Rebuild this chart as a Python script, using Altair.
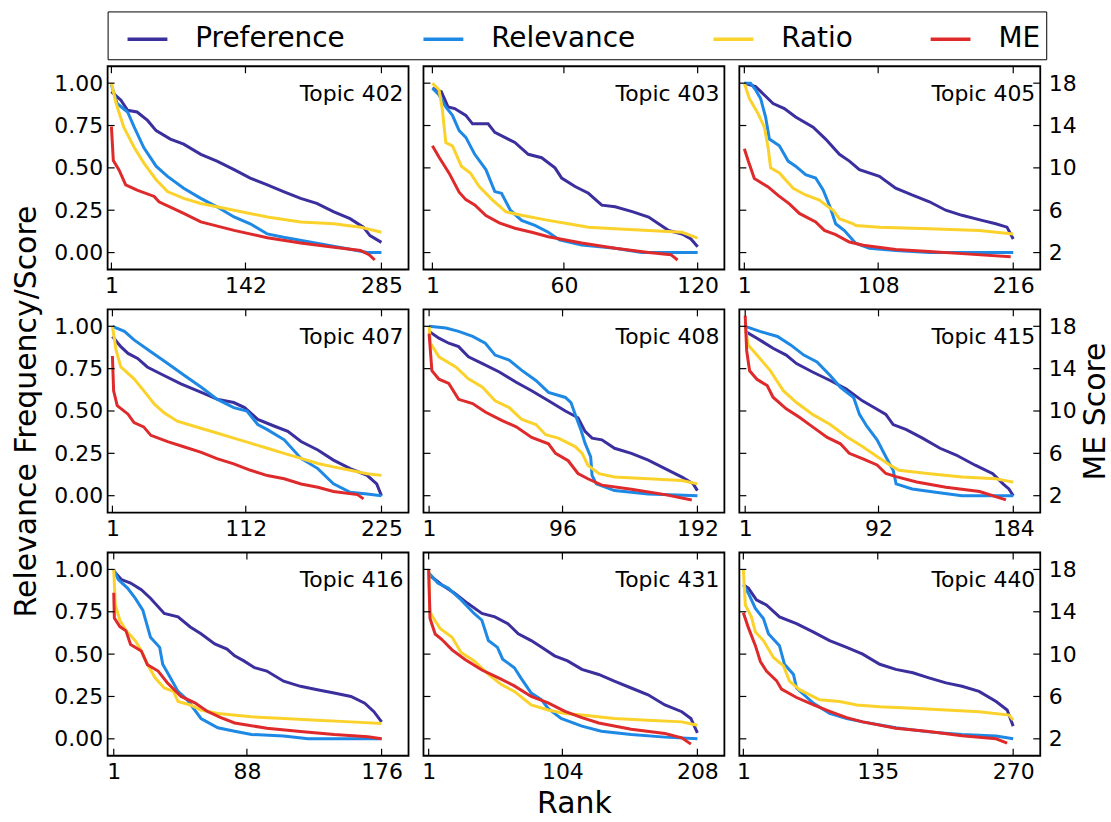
import altair as alt
import pandas as pd

SERIES = ["Preference", "Relevance", "Ratio", "ME"]
COLORS = ["#3b2f9e", "#1e88e5", "#fbd22c", "#df2a2c"]

TOPICS = [402, 403, 405, 407, 408, 415, 416, 431, 440]
N_DOCS = [285, 120, 216, 225, 192, 184, 176, 208, 270]
REL_TICKS = [0, 0.25, 0.5, 0.75, 1.0]
ME_TICKS = [2, 6, 10, 14, 18]

# ---------------- Topic 402 ----------------
T402_PREF_R = [1, 11, 18, 28, 39, 48, 63, 77, 95, 112, 130, 147, 165, 182, 200, 217, 235, 252, 266, 273, 285]
T402_PREF_V = [0.95, 0.90, 0.84, 0.83, 0.78, 0.72, 0.67, 0.64, 0.58, 0.54, 0.49, 0.44, 0.40, 0.36, 0.32, 0.29, 0.24, 0.20, 0.15, 0.10, 0.06]
T402_REL_R = [1, 7, 18, 25, 35, 48, 60, 77, 95, 112, 130, 147, 165, 182, 217, 252, 270, 285]
T402_REL_V = [0.99, 0.88, 0.83, 0.74, 0.62, 0.51, 0.45, 0.38, 0.32, 0.27, 0.21, 0.17, 0.11, 0.09, 0.055, 0.02, 0.0, 0.0]
T402_RAT_R = [1, 6, 14, 25, 35, 48, 60, 77, 95, 130, 165, 200, 235, 263, 285]
T402_RAT_V = [1.0, 0.88, 0.74, 0.62, 0.53, 0.43, 0.36, 0.32, 0.29, 0.25, 0.21, 0.18, 0.17, 0.15, 0.12]
T402_ME_R = [1, 3, 9, 16, 28, 46, 51, 77, 95, 130, 165, 200, 235, 263, 272, 278]
T402_ME_V = [13.9, 10.7, 9.8, 8.4, 7.9, 7.3, 6.8, 5.7, 4.9, 4.1, 3.4, 2.9, 2.5, 2.2, 1.8, 1.3]

# ---------------- Topic 403 ----------------
T403_PREF_R = [1, 5, 8, 11, 16, 19, 26, 29, 35, 38, 44, 50, 56, 59, 65, 71, 77, 83, 91, 98, 107, 113, 117, 120]
T403_PREF_V = [0.97, 0.95, 0.86, 0.85, 0.81, 0.76, 0.76, 0.71, 0.67, 0.65, 0.58, 0.56, 0.50, 0.44, 0.39, 0.35, 0.28, 0.27, 0.24, 0.21, 0.13, 0.11, 0.08, 0.035]
T403_REL_R = [1, 4, 7, 10, 13, 16, 20, 25, 29, 32, 36, 41, 47, 53, 58, 68, 83, 95, 120]
T403_REL_V = [0.97, 0.93, 0.86, 0.81, 0.72, 0.68, 0.58, 0.49, 0.36, 0.35, 0.25, 0.19, 0.16, 0.12, 0.075, 0.045, 0.025, 0.0, 0.0]
T403_RAT_R = [1, 4, 5.5, 7, 10, 14, 18, 22, 28, 34, 41, 53, 62, 71, 83, 98, 113, 120]
T403_RAT_V = [1.0, 0.96, 0.84, 0.65, 0.63, 0.51, 0.47, 0.39, 0.31, 0.24, 0.22, 0.19, 0.17, 0.15, 0.14, 0.13, 0.12, 0.085]
T403_ME_R = [1, 4, 8.5, 13, 16, 20, 25, 31, 38, 46, 53, 68, 83, 98, 108, 111]
T403_ME_V = [12.1, 11.0, 9.5, 7.7, 7.0, 6.5, 5.5, 4.8, 4.3, 3.9, 3.5, 2.9, 2.4, 2.0, 1.8, 1.3]

# ---------------- Topic 405 ----------------
T405_PREF_R = [1, 10, 24, 33, 42, 56, 66, 77, 85, 93, 109, 122, 135, 149, 162, 175, 191, 202, 211, 216]
T405_PREF_V = [1.0, 0.98, 0.88, 0.85, 0.80, 0.74, 0.67, 0.58, 0.54, 0.49, 0.45, 0.38, 0.34, 0.30, 0.25, 0.22, 0.19, 0.17, 0.15, 0.08]
T405_REL_R = [1, 6, 10, 14, 18, 21, 29, 36, 42, 50, 58, 64, 70, 74, 81, 90, 101, 122, 149, 216]
T405_REL_V = [1.0, 1.0, 0.96, 0.91, 0.80, 0.67, 0.63, 0.54, 0.51, 0.46, 0.44, 0.37, 0.26, 0.17, 0.13, 0.055, 0.025, 0.012, 0.0, 0.0]
T405_RAT_R = [1, 5, 12, 17, 20, 22, 29, 40, 50, 61, 68, 72, 77, 88, 90, 109, 149, 189, 216]
T405_RAT_V = [1.0, 0.91, 0.82, 0.74, 0.62, 0.50, 0.47, 0.38, 0.34, 0.31, 0.27, 0.25, 0.20, 0.17, 0.16, 0.15, 0.14, 0.13, 0.11]
T405_ME_R = [1, 4, 9, 20, 28, 37, 45, 58, 65, 74, 85, 96, 122, 149, 175, 214]
T405_ME_V = [11.8, 10.7, 9.0, 8.2, 7.4, 6.6, 5.7, 4.9, 4.1, 3.7, 3.0, 2.7, 2.3, 2.1, 1.9, 1.6]

# ---------------- Topic 407 ----------------
T407_PREF_R = [1, 8, 14, 22, 30, 41, 58, 75, 88, 102, 111, 122, 136, 147, 158, 172, 185, 199, 213, 221, 225]
T407_PREF_V = [0.94, 0.88, 0.84, 0.81, 0.76, 0.72, 0.66, 0.61, 0.57, 0.55, 0.52, 0.45, 0.41, 0.38, 0.32, 0.27, 0.21, 0.16, 0.12, 0.07, 0.0]
T407_REL_R = [1, 11, 19, 33, 47, 61, 75, 88, 102, 113, 122, 130, 144, 158, 172, 185, 199, 213, 225]
T407_REL_V = [1.0, 0.97, 0.92, 0.85, 0.78, 0.71, 0.64, 0.57, 0.52, 0.50, 0.42, 0.39, 0.33, 0.22, 0.16, 0.07, 0.02, 0.01, 0.0]
T407_RAT_R = [1, 4, 8, 19, 27, 36, 44, 55, 69, 88, 102, 116, 130, 144, 158, 172, 185, 199, 213, 225]
T407_RAT_V = [1.0, 0.86, 0.76, 0.69, 0.62, 0.54, 0.49, 0.44, 0.41, 0.37, 0.34, 0.31, 0.28, 0.25, 0.22, 0.19, 0.17, 0.15, 0.13, 0.12]
T407_ME_R = [1, 2, 5, 14, 19, 27, 33, 47, 61, 75, 88, 102, 116, 130, 144, 158, 172, 185, 205, 210]
T407_ME_V = [15.2, 11.9, 10.5, 9.7, 8.9, 8.5, 7.7, 7.1, 6.6, 6.1, 5.5, 5.0, 4.4, 3.9, 3.6, 3.1, 2.8, 2.4, 2.1, 1.7]

# ---------------- Topic 408 ----------------
T408_PREF_R = [1, 8, 15, 22, 29, 39, 51, 63, 74, 86, 98, 107, 112, 117, 124, 133, 145, 157, 169, 181, 189, 192]
T408_PREF_V = [0.97, 0.93, 0.90, 0.88, 0.82, 0.78, 0.73, 0.67, 0.62, 0.56, 0.50, 0.46, 0.38, 0.34, 0.33, 0.28, 0.25, 0.21, 0.16, 0.11, 0.07, 0.03]
T408_REL_R = [1, 13, 22, 32, 41, 48, 58, 67, 77, 86, 98, 102, 105, 109, 112, 116, 117, 120, 133, 157, 192]
T408_REL_V = [1.0, 0.99, 0.97, 0.94, 0.90, 0.83, 0.80, 0.74, 0.68, 0.61, 0.58, 0.55, 0.48, 0.39, 0.31, 0.23, 0.12, 0.07, 0.03, 0.01, 0.0]
T408_RAT_R = [1, 2, 8, 20, 29, 39, 48, 58, 67, 77, 84, 93, 105, 110, 114, 122, 133, 157, 181, 192]
T408_RAT_V = [1.0, 0.90, 0.82, 0.76, 0.69, 0.64, 0.56, 0.52, 0.45, 0.42, 0.36, 0.34, 0.29, 0.25, 0.18, 0.13, 0.11, 0.10, 0.09, 0.07]
T408_ME_R = [1, 3, 8, 15, 22, 32, 41, 53, 63, 74, 86, 91, 100, 107, 114, 124, 145, 169, 188]
T408_ME_V = [17.3, 13.8, 13.0, 12.6, 11.1, 10.7, 9.9, 9.1, 8.5, 7.5, 6.9, 6.0, 5.3, 4.1, 3.6, 3.0, 2.6, 2.1, 1.6]

# ---------------- Topic 415 ----------------
T415_PREF_R = [1, 9, 20, 29, 36, 47, 59, 70, 81, 91, 97, 102, 111, 122, 134, 145, 158, 170, 177, 181, 184]
T415_PREF_V = [0.97, 0.93, 0.87, 0.83, 0.78, 0.73, 0.68, 0.63, 0.56, 0.51, 0.48, 0.42, 0.39, 0.34, 0.28, 0.24, 0.18, 0.13, 0.07, 0.04, 0.0]
T415_REL_R = [1, 11, 23, 32, 41, 50, 59, 66, 75, 79, 84, 91, 97, 102, 104, 115, 131, 149, 184]
T415_REL_V = [1.0, 0.97, 0.94, 0.89, 0.83, 0.79, 0.71, 0.64, 0.58, 0.48, 0.41, 0.33, 0.23, 0.15, 0.07, 0.04, 0.02, 0.0, 0.0]
T415_RAT_R = [1, 3, 9, 18, 27, 36, 47, 59, 70, 81, 93, 100, 106, 127, 149, 172, 184]
T415_RAT_V = [1.0, 0.89, 0.83, 0.74, 0.62, 0.55, 0.48, 0.42, 0.35, 0.29, 0.22, 0.18, 0.15, 0.13, 0.11, 0.10, 0.08]
T415_ME_R = [1, 2, 4, 9, 16, 20, 29, 38, 47, 57, 66, 72, 81, 91, 97, 104, 118, 138, 161, 179]
T415_ME_V = [19.0, 15.7, 13.8, 13.0, 12.4, 11.3, 10.2, 9.4, 8.5, 7.5, 6.9, 6.0, 5.5, 4.9, 4.1, 3.8, 3.3, 2.8, 2.4, 1.6]

# ---------------- Topic 416 ----------------
T416_PREF_R = [1, 6, 12, 19, 25, 34, 43, 51, 58, 67, 75, 80, 86, 93, 101, 112, 123, 134, 145, 156, 165, 171, 176]
T416_PREF_V = [0.99, 0.94, 0.92, 0.88, 0.83, 0.74, 0.72, 0.66, 0.62, 0.56, 0.53, 0.49, 0.46, 0.42, 0.40, 0.34, 0.31, 0.29, 0.27, 0.25, 0.21, 0.16, 0.10]
T416_REL_R = [1, 4, 10, 15, 20, 25, 31, 33, 38, 43, 49, 58, 69, 80, 91, 112, 128, 176]
T416_REL_V = [1.0, 0.94, 0.89, 0.83, 0.76, 0.60, 0.54, 0.44, 0.36, 0.28, 0.23, 0.12, 0.065, 0.045, 0.026, 0.016, 0.0, 0.0]
T416_RAT_R = [1, 2, 5, 9, 15, 19, 23, 28, 34, 40, 43, 51, 58, 69, 91, 112, 134, 156, 176]
T416_RAT_V = [1.0, 0.79, 0.70, 0.64, 0.58, 0.52, 0.44, 0.36, 0.30, 0.28, 0.22, 0.20, 0.17, 0.15, 0.13, 0.12, 0.11, 0.10, 0.09]
T416_ME_R = [1, 1.4, 5, 9, 12, 19, 23, 30, 36, 45, 54, 62, 71, 80, 101, 123, 145, 167, 176]
T416_ME_V = [15.8, 13.4, 12.6, 12.2, 10.9, 10.3, 9.0, 8.4, 7.3, 6.0, 5.4, 4.6, 4.0, 3.5, 3.0, 2.7, 2.4, 2.2, 2.0]

# ---------------- Topic 431 ----------------
T431_PREF_R = [1, 11, 21, 31, 42, 52, 62, 70, 80, 88, 98, 108, 119, 132, 144, 157, 170, 183, 196, 203, 208]
T431_PREF_V = [0.97, 0.91, 0.86, 0.80, 0.74, 0.72, 0.68, 0.62, 0.58, 0.54, 0.49, 0.46, 0.41, 0.38, 0.34, 0.30, 0.26, 0.20, 0.16, 0.12, 0.035]
T431_REL_R = [1, 8, 16, 26, 36, 42, 47, 54, 58, 67, 72, 80, 88, 93, 103, 119, 134, 157, 183, 208]
T431_REL_V = [0.98, 0.92, 0.89, 0.82, 0.74, 0.70, 0.58, 0.54, 0.47, 0.42, 0.36, 0.27, 0.23, 0.18, 0.12, 0.075, 0.045, 0.026, 0.01, 0.0]
T431_RAT_R = [1, 2, 4, 10, 19, 26, 36, 47, 57, 67, 80, 93, 106, 119, 144, 170, 196, 208]
T431_RAT_V = [1.0, 0.75, 0.72, 0.65, 0.60, 0.51, 0.46, 0.38, 0.32, 0.28, 0.20, 0.17, 0.15, 0.14, 0.12, 0.11, 0.10, 0.08]
T431_ME_R = [1, 2, 6, 11, 19, 29, 42, 54, 67, 80, 93, 106, 119, 132, 157, 183, 196, 203]
T431_ME_V = [18.0, 13.4, 11.9, 11.4, 10.4, 9.5, 8.5, 7.8, 7.0, 6.0, 5.4, 4.6, 4.0, 3.5, 2.9, 2.5, 2.1, 1.5]

# ---------------- Topic 440 ----------------
T440_PREF_R = [1, 6, 14, 24, 37, 54, 71, 87, 104, 120, 137, 153, 170, 186, 203, 219, 236, 253, 264, 270]
T440_PREF_V = [0.91, 0.89, 0.82, 0.79, 0.72, 0.68, 0.63, 0.58, 0.54, 0.50, 0.44, 0.41, 0.39, 0.36, 0.33, 0.31, 0.28, 0.22, 0.17, 0.075]
T440_REL_R = [1, 6, 13, 21, 26, 37, 42, 51, 54, 71, 87, 104, 120, 153, 186, 219, 253, 270]
T440_REL_V = [0.91, 0.86, 0.77, 0.71, 0.62, 0.55, 0.44, 0.38, 0.30, 0.21, 0.15, 0.12, 0.10, 0.065, 0.041, 0.026, 0.016, 0.0]
T440_RAT_R = [1, 3, 9, 13, 21, 31, 41, 47, 57, 77, 97, 114, 137, 170, 203, 236, 266, 270]
T440_RAT_V = [1.0, 0.79, 0.72, 0.63, 0.58, 0.48, 0.43, 0.34, 0.29, 0.23, 0.22, 0.20, 0.19, 0.18, 0.17, 0.16, 0.14, 0.11]
T440_ME_R = [1, 6, 13, 18, 24, 34, 39, 54, 71, 87, 104, 120, 153, 186, 219, 253, 264]
T440_ME_V = [13.9, 12.5, 10.8, 9.3, 8.4, 7.5, 6.7, 5.9, 5.2, 4.6, 4.0, 3.6, 3.0, 2.7, 2.3, 2.0, 1.6]

RAW = {
    402: (T402_PREF_R, T402_PREF_V, T402_REL_R, T402_REL_V, T402_RAT_R, T402_RAT_V, T402_ME_R, T402_ME_V),
    403: (T403_PREF_R, T403_PREF_V, T403_REL_R, T403_REL_V, T403_RAT_R, T403_RAT_V, T403_ME_R, T403_ME_V),
    405: (T405_PREF_R, T405_PREF_V, T405_REL_R, T405_REL_V, T405_RAT_R, T405_RAT_V, T405_ME_R, T405_ME_V),
    407: (T407_PREF_R, T407_PREF_V, T407_REL_R, T407_REL_V, T407_RAT_R, T407_RAT_V, T407_ME_R, T407_ME_V),
    408: (T408_PREF_R, T408_PREF_V, T408_REL_R, T408_REL_V, T408_RAT_R, T408_RAT_V, T408_ME_R, T408_ME_V),
    415: (T415_PREF_R, T415_PREF_V, T415_REL_R, T415_REL_V, T415_RAT_R, T415_RAT_V, T415_ME_R, T415_ME_V),
    416: (T416_PREF_R, T416_PREF_V, T416_REL_R, T416_REL_V, T416_RAT_R, T416_RAT_V, T416_ME_R, T416_ME_V),
    431: (T431_PREF_R, T431_PREF_V, T431_REL_R, T431_REL_V, T431_RAT_R, T431_RAT_V, T431_ME_R, T431_ME_V),
    440: (T440_PREF_R, T440_PREF_V, T440_REL_R, T440_REL_V, T440_RAT_R, T440_RAT_V, T440_ME_R, T440_ME_V),
}

W, H = 302, 204
FONT = "DejaVu Sans"
TICK_LEN = 7

LEGEND = alt.Legend(
    orient="none", legendX=0, legendY=-55, direction="horizontal", title=None,
    strokeColor="black", fillColor="white", padding=6,
    labelFontSize=28, labelFont=FONT, labelColor="black",
    symbolType="stroke", symbolSize=1600, symbolStrokeWidth=3.5, symbolOffset=12,
    labelOffset=26, columnPadding=64,
)
COLOR_SCALE = alt.Scale(domain=SERIES, range=COLORS)


def panel(i):
    topic, n = TOPICS[i], N_DOCS[i]
    row, col = divmod(i, 3)
    pr, pv, rr, rv, ar, av, mr, mv = RAW[topic]
    left_df = pd.concat([
        pd.DataFrame({"rank": pr, "value": pv, "series": "Preference"}),
        pd.DataFrame({"rank": rr, "value": rv, "series": "Relevance"}),
        pd.DataFrame({"rank": ar, "value": av, "series": "Ratio"}),
    ])
    me_df = pd.DataFrame({"rank": mr, "me": mv, "series": "ME"})
    xticks = [1, n // 2, n]

    xscale = alt.Scale(domain=[-3, 1.1 * n], nice=False, zero=False)
    xaxis = alt.Axis(values=xticks, ticks=False, tickSize=0, domain=False, grid=False,
                     labelFontSize=22, labelPadding=6, labelFlush=False, labelOverlap=False,
                     labelColor="black", title=("Rank" if (row == 2 and col == 1) else None),
                     titleFontSize=30, titleFontWeight="normal", titlePadding=6, titleColor="black")
    yscale = alt.Scale(domain=[-0.1, 1.1], nice=False, zero=False)
    if col == 0:
        yaxis = alt.Axis(values=REL_TICKS, format=".2f", ticks=False, tickSize=0, domain=False,
                         grid=False, labelFontSize=22, labelPadding=5, labelColor="black",
                         title=("Relevance Frequency/Score" if row == 1 else None),
                         titleFontSize=30, titleFontWeight="normal", titlePadding=12,
                         titleColor="black")
    else:
        yaxis = None
    color = alt.Color("series:N", scale=COLOR_SCALE, legend=LEGEND)

    lines = alt.Chart(left_df).mark_line(strokeWidth=3).encode(
        x=alt.X("rank:Q", scale=xscale, axis=xaxis),
        y=alt.Y("value:Q", scale=yscale, axis=yaxis),
        color=color,
    )
    if col == 2:
        me_axis = alt.Axis(orient="right", values=ME_TICKS, ticks=False, tickSize=0, domain=False,
                           grid=False, labelFontSize=22, labelPadding=8, labelColor="black",
                           title=("ME Score" if row == 1 else None), titleFontSize=30,
                           titleFontWeight="normal", titleAngle=270, titleBaseline="top",
                           titlePadding=4, titleColor="black")
    else:
        me_axis = None
    me = alt.Chart(me_df).mark_line(strokeWidth=3).encode(
        x=alt.X("rank:Q", scale=xscale, axis=xaxis),
        y=alt.Y("me:Q", scale=alt.Scale(domain=[0.4, 19.6], nice=False, zero=False), axis=me_axis),
        color=color,
    )

    xt = pd.DataFrame({"t": xticks})
    yt = pd.DataFrame({"v": REL_TICKS})
    tx = alt.X("t:Q", scale=xscale, axis=xaxis)
    top_ticks = alt.Chart(xt).mark_rule(color="black", strokeWidth=1.2).encode(
        x=tx, y=alt.value(0), y2=alt.value(TICK_LEN))
    bot_ticks = alt.Chart(xt).mark_rule(color="black", strokeWidth=1.2).encode(
        x=tx, y=alt.value(H - TICK_LEN), y2=alt.value(H))
    left_ticks = alt.Chart(yt).mark_rule(color="black", strokeWidth=1.2).encode(
        y=alt.Y("v:Q", scale=yscale, axis=None), x=alt.value(0), x2=alt.value(TICK_LEN))
    layers = [lines, me, top_ticks, bot_ticks, left_ticks]
    if col == 2:
        right_ticks = alt.Chart(yt).mark_rule(color="black", strokeWidth=1.2).encode(
            y=alt.Y("v:Q", scale=yscale, axis=None), x=alt.value(W - TICK_LEN), x2=alt.value(W))
        layers.append(right_ticks)
    label = alt.Chart(pd.DataFrame({"label": [f"Topic {topic}"]})).mark_text(
        align="right", baseline="alphabetic", fontSize=22, font=FONT, color="black"
    ).encode(text="label:N", x=alt.value(W - 5), y=alt.value(35))
    layers.append(label)
    return alt.layer(*layers).resolve_scale(y="independent").properties(width=W, height=H)


panels = [panel(i) for i in range(9)]
chart = alt.ConcatChart(
    concat=panels, columns=3, bounds="flush", spacing={"row": 40, "column": 15}
).configure(
    font=FONT, padding={"left": 11, "top": 9, "right": 0, "bottom": 0}, background="white"
).configure_view(stroke="black", strokeWidth=1.8)

chart.save("out.html", embed_options={"renderer": "svg", "actions": False})
